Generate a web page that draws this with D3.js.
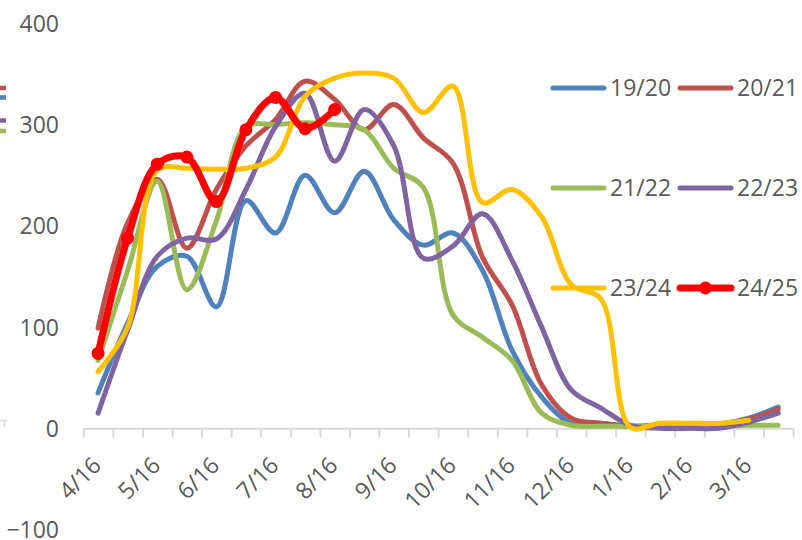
<!DOCTYPE html>
<html>
<head>
<meta charset="utf-8">
<script src="https://cdn.jsdelivr.net/npm/d3@7"></script>
<style>
  html, body { margin: 0; padding: 0; background: #fff; }
  svg { display: block; }
  text { font-family: "Open Sans", sans-serif; fill: #595959; }
</style>
</head>
<body>
<svg id="chart" width="802" height="540"></svg>
<script>
// Half-monthly season calendar, April to March
const categories = ["4/16","5/1","5/16","6/1","6/16","7/1","7/16","8/1","8/16","9/1","9/16","10/1",
                    "10/16","11/1","11/16","12/1","12/16","1/1","1/16","2/1","2/16","3/1","3/16","4/1"];
const tickLabels = categories.filter((d, i) => i % 2 === 0);
const yTicks = [-100, 0, 100, 200, 300, 400];

const seasons = ["19/20", "20/21", "21/22", "22/23", "23/24", "24/25"];
const s1920 = [35, 104, 160, 170, 120, 225, 193, 250, 213, 254, 206, 181, 193, 156, 77, 31, 5, 5, 2, 3, 3, 4, 10, 21];
const s2021 = [99, 203, 246, 178, 236, 279, 305, 343, 325, 295, 320, 287, 262, 169, 122, 43, 10, 5, 2, 3, 4, 4, 9, 19];
const s2122 = [67, 156, 244, 137, 205, 298, 300, 302, 300, 295, 257, 238, 112, 90, 67, 15, 3, 2, 2, 2, 2, 2, 3, 3];
const s2223 = [15, 97, 170, 188, 187, 236, 298, 331, 264, 315, 279, 168, 180, 212, 166, 100, 38, 20, 3, 0, 0, 0, 6, 15];
const s2324 = [56, 100, 255, 257, 256, 257, 268, 328, 346, 351, 346, 312, 338, 223, 236, 209, 142, 128, 1, 5, 5, 5, 8];
const s2425 = [74, 188, 261, 268, 224, 295, 327, 296, 315];

const seriesValues = [s1920, s2021, s2122, s2223, s2324, s2425];
const colors = ["#4F81BD", "#C0504D", "#9BBB59", "#8064A2", "#FFC000", "#FF0000"];

const svg = d3.select("#chart");

const x = d3.scaleBand().domain(categories).range([83.3, 793]);
const xEdge = d3.scaleLinear().domain([0, categories.length]).range([83.3, 793]);
const y = d3.scaleLinear().domain([-100, 400]).range([529.5, 23.5]);
const cx = c => x(c) + x.bandwidth() / 2;

// Fragments of a neighbouring legend and axis clipped at the left edge
const stubs = [[colors[1], 88], [colors[0], 97.5], [colors[3], 120.5], [colors[2], 131]];
svg.append("g").selectAll("line").data(stubs).join("line")
  .attr("x1", -4).attr("x2", 6)
  .attr("y1", d => d[1]).attr("y2", d => d[1])
  .attr("stroke", d => d[0]).attr("stroke-width", 4.5);
svg.append("path").attr("d", "M0,420.5H7M4.5,420.5V427")
  .attr("fill", "none").attr("stroke", "#d9d9d9").attr("stroke-width", 1.5);

// Category axis: boundary tick marks
const axisG = svg.append("g")
  .attr("transform", `translate(0,${y(0)})`)
  .call(d3.axisBottom(xEdge)
    .tickValues(d3.range(categories.length + 1))
    .tickSize(9).tickSizeOuter(0).tickFormat(""));
axisG.select(".domain").attr("stroke", "#d9d9d9").attr("stroke-width", 2);
axisG.selectAll(".tick line").attr("stroke", "#d9d9d9").attr("stroke-width", 2);

// Category labels, every other period, rotated
const labelG = svg.append("g")
  .call(d3.axisBottom(x).tickValues(tickLabels).tickSize(0));
labelG.select(".domain").remove();
labelG.selectAll(".tick").attr("transform", null);
labelG.selectAll(".tick text")
  .attr("transform", d => `translate(${cx(d) + 4.5},467) rotate(-45)`)
  .attr("x", 0).attr("y", 0).attr("dy", null)
  .attr("text-anchor", "end")
  .style("font-size", "23px").style("font-family", "'Open Sans', sans-serif")
  .attr("fill", "#595959");

// Value axis labels
const yG = svg.append("g")
  .attr("transform", "translate(59,0)")
  .call(d3.axisLeft(y).tickValues(yTicks).tickSize(0).tickPadding(0));
yG.select(".domain").remove();
yG.selectAll(".tick text")
  .attr("dy", "0.35em")
  .style("font-size", "23px").style("font-family", "'Open Sans', sans-serif")
  .attr("fill", "#595959");

// Season lines
const line = d3.line()
  .x((d, i) => cx(categories[i]))
  .y(d => y(d))
  .curve(d3.curveCatmullRom.alpha(0.5));

const plot = svg.append("g");
seriesValues.forEach((vals, k) => {
  const last = k === seriesValues.length - 1;
  plot.append("path")
    .datum(vals)
    .attr("d", line)
    .attr("fill", "none")
    .attr("stroke", colors[k])
    .attr("stroke-width", last ? 7 : 5)
    .attr("stroke-linecap", "round")
    .attr("stroke-linejoin", "round");
  if (last) {
    plot.append("g").selectAll("circle").data(vals).join("circle")
      .attr("cx", (d, i) => cx(categories[i]))
      .attr("cy", d => y(d))
      .attr("r", 6.5)
      .attr("fill", colors[k]);
  }
});

// Legend, two columns by three rows
const legendCols = [553, 680];
const legendRows = [88, 188, 288];
const legend = svg.append("g");
seasons.forEach((name, k) => {
  const lx = legendCols[k % 2];
  const ly = legendRows[Math.floor(k / 2)];
  const last = k === seasons.length - 1;
  legend.append("line")
    .attr("x1", lx).attr("x2", lx + 51)
    .attr("y1", ly).attr("y2", ly)
    .attr("stroke", colors[k])
    .attr("stroke-width", last ? 7 : 5)
    .attr("stroke-linecap", "round");
  if (last) {
    legend.append("circle").attr("cx", lx + 25.5).attr("cy", ly).attr("r", 6.5).attr("fill", colors[k]);
  }
  legend.append("text")
    .attr("x", lx + 57).attr("y", ly).attr("dy", "0.35em")
    .style("font-size", "23px")
    .text(name);
});
</script>
</body>
</html>
